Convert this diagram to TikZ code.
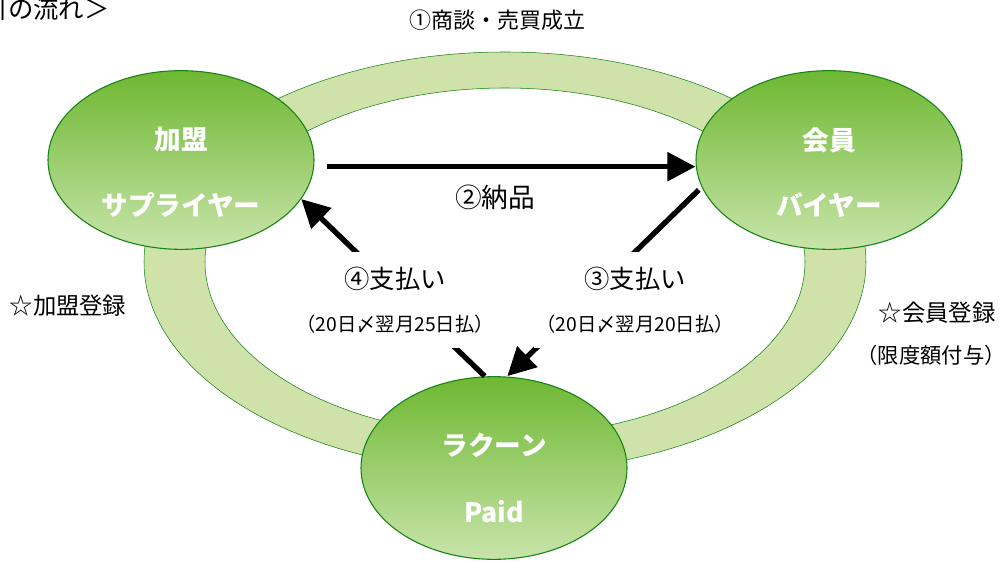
\documentclass[tikz,border=0pt]{standalone}
\usepackage{fontspec}
\setmainfont{Noto Sans CJK JP}
\usetikzlibrary{shapes.geometric,arrows.meta,calc}
\definecolor{leaftop}{RGB}{110,184,50}
\definecolor{leafbot}{RGB}{200,228,170}
\definecolor{leafline}{RGB}{20,130,20}
\definecolor{ringfill}{RGB}{206,226,170}
\begin{document}
\begin{tikzpicture}[x=0.75pt, y=-0.75pt]
            \useasboundingbox (0,0) rectangle (1007,563);
            \begin{scope}[
                    party/.style={ellipse, draw=leafline, thick, top color=leaftop, bottom color=leafbot, minimum width=199.5pt, minimum height=134pt, inner sep=0pt},
                    wtxt/.style={text=white, font=\bfseries\fontsize{20}{24}\selectfont},
                    flow/.style={line width=4pt, -{Triangle[length=21pt, width=21pt]}},
                    memo/.style={fill=white, align=center, inner xsep=2pt, inner ysep=11pt, font=\fontsize{14.5}{32}\selectfont}
                ]

                \begin{scope}
                    \clip (0,0) rectangle (1007,563);
                    \node[anchor=west, inner sep=0pt, font=\fontsize{19}{22}\selectfont] (title) at (-68,9) {＜取引の流れ＞};
                \end{scope}

                \coordinate (hub) at (505,262);
                \filldraw[draw=leafline, fill=ringfill, even odd rule]
                    (hub) ellipse [x radius=270.75pt, y radius=157.5pt]
                    (hub) ellipse [x radius=225pt, y radius=130.5pt];

                \node[party] (sup) at (181,160) {};
                \node[party] (buy) at (829,160) {};
                \node[party, minimum height=137pt] (pay) at (494,468) {};

                \node[wtxt] (sup1) at ($(sup)+(0,-20)$) {加盟};
                \node[wtxt] (sup2) at ($(sup)+(0,45)$) {サプライヤー};
                \node[wtxt] (buy1) at ($(buy)+(0,-20)$) {会員};
                \node[wtxt] (buy2) at ($(buy)+(0,45)$) {バイヤー};
                \node[wtxt] (pay1) at ($(pay)+(0,-23)$) {ラクーン};
                \node[wtxt] (pay2) at ($(pay)+(0,44)$) {Paid};

                \draw[flow] ([xshift=9pt, yshift=-5pt]sup.east) -- ([yshift=-5pt]buy.west);
                \draw[flow] ([xshift=-7pt]pay.north) -- (sup.-18);
                \draw[flow, shorten <=3pt] (buy.192) -- ([xshift=10pt]pay.north);

                \node[font=\fontsize{16.5}{19}\selectfont] (deal) at (497,20) {①商談・売買成立};
                \node[font=\fontsize{20}{24}\selectfont] (ship) at (495,197) {②納品};
                \node[memo] (pay4) at (395,300) {{\fontsize{19}{22}\selectfont ④支払い}\\（20日〆翌月25日払）};
                \node[memo] (pay3) at (635,300) {{\fontsize{19}{22}\selectfont ③支払い}\\（20日〆翌月20日払）};
                \node[font=\fontsize{17.5}{20}\selectfont] (supreg) at (68,306) {☆加盟登録};
                \node[font=\fontsize{17.5}{20}\selectfont] (buyreg) at (937,313) {☆会員登録};
                \node[font=\fontsize{16}{19}\selectfont] (buylim) at (931,355) {（限度額付与）};
            \end{scope}
        \end{tikzpicture}
\end{document}
